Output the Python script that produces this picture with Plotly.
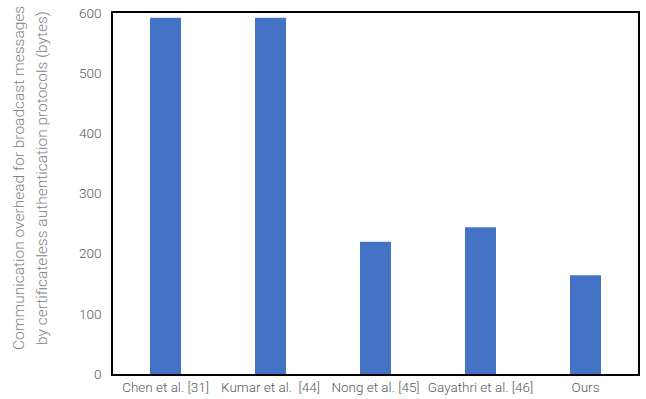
import plotly.graph_objects as go

categories = ["Chen et al. [31]", "Kumar et al.\u00a0 [44]", "Nong et al. [45]", "Gayathri et al. [46]", "Ours"]
values = [592, 592, 220, 244, 164]
y_ticks = [0, 100, 200, 300, 400, 500, 600]
title_lines = ["Communication overhead for broadcast messages",
               "by certificateless authentication protocols (bytes)"]

FONT = "Roboto"
W, H = 646, 399
L, R, T, B = 113, 8, 13, 25
PW, PH = W - L - R, H - T - B

fig = go.Figure(go.Bar(
    x=categories, y=values,
    marker=dict(color="#4472C4", line=dict(width=0)),
    width=0.295,
))

fig.update_layout(
    width=W, height=H,
    margin=dict(l=L, r=R, t=T, b=B, autoexpand=False),
    plot_bgcolor="white", paper_bgcolor="white",
    font=dict(family=FONT, size=13, color="#595959"),
    showlegend=False,
    bargap=0.7,
)
fig.update_xaxes(
    showline=True, linecolor="black", linewidth=1.5, mirror=True,
    ticks="", tickangle=0, automargin=False,
    tickfont=dict(family=FONT, size=13.5, color="#595959", weight=300),
)
fig.update_yaxes(
    range=[0, 600], tickvals=y_ticks,
    showline=True, linecolor="black", linewidth=1.5, mirror=True,
    showgrid=False, zeroline=False, ticks="", automargin=False,
    ticklabelstandoff=7,
    tickfont=dict(family=FONT, size=13.5, color="#595959", weight=300),
)
center_px_y = 178
for px_x, line in zip([19, 42], title_lines):
    fig.add_annotation(
        text=line,
        xref="paper", yref="paper", x=(px_x - L) / PW, y=(H - B - center_px_y) / PH,
        xanchor="center", yanchor="middle", textangle=-90, showarrow=False,
        font=dict(family=FONT, size=15.5, color="#7f7f7f", weight=300),
    )

fig.write_html("out.html")
